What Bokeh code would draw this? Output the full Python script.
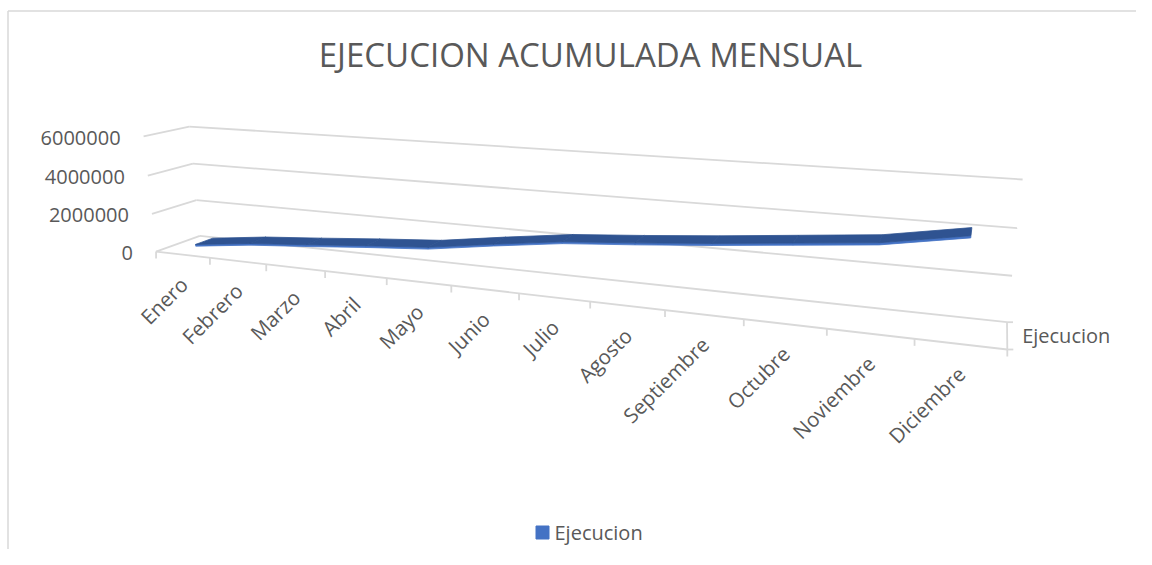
import numpy as np
from bokeh.plotting import figure
from bokeh.models import Range1d
from bokeh.embed import file_html
from bokeh.resources import INLINE
from bokeh.core.properties import value

# ---------------- data ----------------
months = ["Enero", "Febrero", "Marzo", "Abril", "Mayo", "Junio", "Julio",
          "Agosto", "Septiembre", "Octubre", "Noviembre", "Diciembre"]
ejecucion = [280000, 650000, 900000, 1170000, 1410000, 1880000, 2310000,
             2570000, 2860000, 3190000, 3520000, 4120000]
y_ticks = [0, 2000000, 4000000, 6000000]
y_tick_labels = ["0", "2000000", "4000000", "6000000"]
series_name = "Ejecucion"
chart_title = "EJECUCION ACUMULADA MENSUAL"

# ---------------- layout / 3D camera ----------------
W, H = 1136, 549
X0, Y0 = 0, 0
NCAT = len(months)
YMAX = y_ticks[-1]
FONT = "Open Sans"
TXT = "#595959"
GRID = "#D9D9D9"

# anchor points of the 3D box (normalised cat, value, depth) -> pixels
anchors = [
    ((0, 0, 0), (198, 235)), ((0, 1/3, 0), (195.5, 200)), ((0, 2/3, 0), (193, 163)), ((0, 1, 0), (190, 126)),
    ((1, 0, 0), (1007, 322)), ((1, 1/3, 0), (1011, 275)), ((1, 2/3, 0), (1017, 228)), ((1, 1, 0), (1022, 179)),
    ((0, 0, 1), (156, 251)), ((0, 1/3, 1), (151, 214)), ((0, 2/3, 1), (147, 176)), ((0, 1, 1), (142, 135)),
]
front_ticks_px = [156, 210, 266, 325, 387, 451, 518, 589, 664, 743, 827, 914, 1007]
for k, u in enumerate(front_ticks_px):
    anchors.append(((k / 12, 0, 1), (u, 251 + (u - 156) * 98 / 851)))

A = []
for (X, Y, Z), (u, v) in anchors:
    un, vn = (u - 600) / 500, (v - 250) / 500
    A.append([X, Y, Z, 1, 0, 0, 0, 0, -un * X, -un * Y, -un * Z, -un])
    A.append([0, 0, 0, 0, X, Y, Z, 1, -vn * X, -vn * Y, -vn * Z, -vn])
_, _, Vt = np.linalg.svd(np.array(A, dtype=float))
Pm = Vt[-1].reshape(3, 4)


def proj(c, val, z):
    """c: category coordinate (0..NCAT), val: data value, z: depth 0 back..1 front"""
    c = np.atleast_1d(np.asarray(c, dtype=float)) / NCAT
    y = np.asarray(val, dtype=float) / YMAX * np.ones_like(c)
    z = np.asarray(z, dtype=float) * np.ones_like(c)
    h = np.stack([c, y, z, np.ones_like(c)])
    r = Pm @ h
    u = r[0] / r[2] * 500 + 600
    v = r[1] / r[2] * 500 + 250
    return u, v


p = figure(width=W, height=H, x_range=Range1d(X0, X0 + W), y_range=Range1d(Y0 + H, Y0),
           output_backend="svg", toolbar_location=None, min_border=0,
           x_axis_location=None, y_axis_location=None, outline_line_color=None)
p.xgrid.visible = False
p.ygrid.visible = False
p.background_fill_color = "white"

# chart border (left & top visible)
p.multi_line(xs=[[7.5, 7.5], [7.5, X0 + W + 5]], ys=[[Y0 + H + 5, 10.5], [10.5, 10.5]],
             line_color=GRID, line_width=1.5)

# ---------------- walls / floor ----------------
gx, gy = [], []
for t in y_ticks:
    u, v = proj([0, NCAT], [t, t], 0)
    gx.append(list(u)); gy.append(list(v))
    u, v = proj([0, 0], [t, t], [1, 0])
    gx.append(list(u)); gy.append(list(v))
u, v = proj([0, NCAT], [0, 0], 1)
gx.append(list(u)); gy.append(list(v))
u, v = proj([NCAT, NCAT], [0, 0], [0, 1])
gx.append(list(u)); gy.append(list(v))
# category tick marks
for k in range(NCAT + 1):
    u, v = proj(k, 0, 1)
    gx.append([float(u[0]), float(u[0])]); gy.append([float(v[0]), float(v[0]) + 7])
# depth axis ticks
for z in (0, 1):
    u, v = proj(NCAT, 0, z)
    gx.append([float(u[0]), float(u[0]) + 6]); gy.append([float(v[0]), float(v[0])])
p.multi_line(xs=gx, ys=gy, line_color=GRID, line_width=1.8)

# ---------------- ribbon (3D line) ----------------
z0, z1 = 0.3, 0.7
thick = 0.09 * YMAX / 6
cx = np.arange(NCAT) + 0.5
vals = np.array(ejecucion, dtype=float)
top_x, top_y, fr_x, fr_y = [], [], [], []
for i in range(NCAT - 1):
    c = [cx[i], cx[i + 1], cx[i + 1], cx[i]]
    vv = [vals[i], vals[i + 1], vals[i + 1], vals[i]]
    u, v = proj(c, vv, [z0, z0, z1, z1])
    top_x.append(list(u)); top_y.append(list(v))
    u, v = proj(c, [vals[i], vals[i + 1], vals[i + 1] - thick, vals[i] - thick], z1)
    fr_x.append(list(u)); fr_y.append(list(v))
p.patches(xs=fr_x, ys=fr_y, fill_color="#4472C4", line_color="#4472C4", line_width=0.8)
p.patches(xs=top_x, ys=top_y, fill_color="#2F5391", line_color="#2F5391", line_width=0.8)

# ---------------- texts ----------------
p.text(x=[590], y=[54], text=[chart_title], text_font=value(FONT), text_font_size="33px",
       text_color=TXT, text_align="center", text_baseline="middle")

u, v = proj(np.zeros(len(y_ticks)), y_ticks, 1)
p.text(x=list(u - 23), y=list(v + 1.5), text=y_tick_labels, text_font=value(FONT),
       text_font_size="20px", text_color=TXT, text_align="right", text_baseline="middle")

u, v = proj(cx, np.zeros(NCAT), 1)
p.text(x=list(u + 1), y=list(v + 26), text=months, text_font=value(FONT), text_font_size="20.5px",
       text_color=TXT, text_align="right", text_baseline="middle", angle=45, angle_units="deg")

u, v = proj(NCAT, 0, 0.5)
p.text(x=[float(u[0]) + 15], y=[float(v[0])], text=[series_name], text_font=value(FONT),
       text_font_size="20px", text_color=TXT, text_align="left", text_baseline="middle")

# legend
p.scatter(x=[542], y=[532], marker="square", size=13, fill_color="#4472C4", line_color="#4472C4")
p.text(x=[554], y=[532], text=[series_name], text_font=value(FONT), text_font_size="20px",
       text_color=TXT, text_align="left", text_baseline="middle")

open("out.html", "w").write(file_html(p, INLINE))
